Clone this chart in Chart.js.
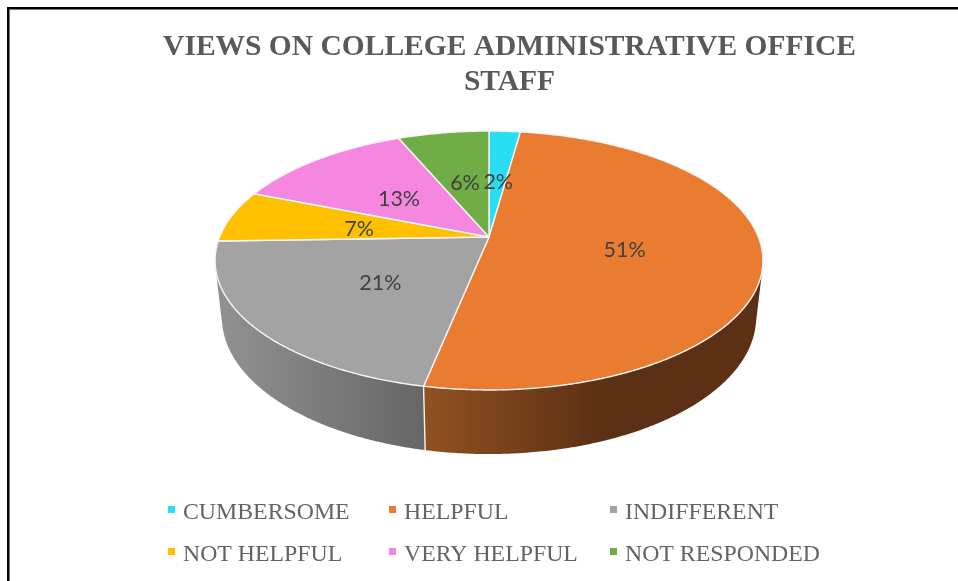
<!DOCTYPE html>
<html>
<head>
<meta charset="utf-8">
<style>
html,body{margin:0;padding:0;width:958px;height:581px;overflow:hidden;background:#fff}
#frame{position:absolute;left:7px;top:7px;width:1000px;height:700px;border-left:2px solid #000;border-top:2px solid #000;box-shadow:inset 1px 1px 0 #777}
#wrap{position:absolute;left:0;top:0;width:958px;height:581px}
canvas{filter:blur(0.45px)}
</style>
<script src="https://cdn.jsdelivr.net/npm/chart.js@4"></script>
</head>
<body>
<div id="frame"></div>
<div id="wrap"><canvas id="c" width="958" height="581"></canvas></div>
<script>
const categories = ["CUMBERSOME","HELPFUL","INDIFFERENT","NOT HELPFUL","VERY HELPFUL","NOT RESPONDED"];
const sliceValues = [2.2,51,21.3,6.5,12.6,6.4];
const percentLabels = ["2%","51%","21%","7%","13%","6%"];
const titleLines = ["VIEWS ON COLLEGE ADMINISTRATIVE OFFICE","STAFF"];
const faceColors = ["#29DDF3","#EA7C31","#A3A3A3","#FFC000","#F587E0","#70AD47"];
const wallStart = ["#1c9aaa","#905121","#919191","#b28600","#ab5e9c","#4e7931"];
const wallEnd = ["#1c9aaa","#5C3014","#666666","#b28600","#ab5e9c","#4e7931"];
const wallRange = [[460,520],[426,600],[222,424],[215,300],[250,400],[400,490]];
const P = {cx:489, cy:237, k:0.1815, s:125.2, t:269.4, m:0.975, D:55.6};

function upper(a, r){
  const u = Math.cos(a)*r, v = Math.sin(a)*r, w = 1 - P.k*v;
  return [P.cx + P.t*u/w, P.cy + P.s*v/w];
}
function lower(a){
  const u = Math.cos(a), v = Math.sin(a), w = 1 - P.k*v;
  return [P.cx + P.m*P.t*u/w, P.cy + (P.m*P.s*v + P.D)/w];
}
function quadArea(p){
  let s=0;
  for(let i=0;i<4;i++){const q=p[(i+1)%4]; s+=p[i][0]*q[1]-q[0]*p[i][1];}
  return s;
}
const legendCols = [168,389,610];
const legendRows = [506,548];

const pie3d = {
  id:"pie3d",
  beforeDatasetDraw(chart, args){
    const ctx = chart.ctx, arcs = chart.getDatasetMeta(args.index).data;
    const step = Math.PI/360;
    ctx.save();
    // side wall: only the part that faces the viewer
    arcs.forEach((arc,i)=>{
      const g = ctx.createLinearGradient(wallRange[i][0],0,wallRange[i][1],0);
      g.addColorStop(0,wallStart[i]); g.addColorStop(1,wallEnd[i]);
      ctx.fillStyle = g;
      ctx.beginPath();
      for(let a=arc.startAngle; a<arc.endAngle; a+=step){
        const b = Math.min(a+step,arc.endAngle);
        if(Math.sin(a)<P.k-0.01 && Math.sin(b)<P.k-0.01) continue;
        let p=[upper(a,1),upper(b,1),lower(b),lower(a)];
        if(quadArea(p)<0) p=p.reverse();
        ctx.moveTo(p[0][0],p[0][1]);
        for(let j=1;j<4;j++) ctx.lineTo(p[j][0],p[j][1]);
        ctx.closePath();
      }
      ctx.fill("nonzero");
    });
    // seams on the visible wall
    ctx.strokeStyle="#f4f4f4"; ctx.lineWidth=1.4;
    arcs.forEach(arc=>{
      if(Math.sin(arc.endAngle)>0.3){
        const p=upper(arc.endAngle,1), q=lower(arc.endAngle);
        ctx.beginPath(); ctx.moveTo(p[0],p[1]); ctx.lineTo(q[0],q[1]); ctx.stroke();
      }
    });
    // top face
    arcs.forEach((arc,i)=>{
      ctx.beginPath();
      const o=upper(0,0); ctx.moveTo(o[0],o[1]);
      for(let a=arc.startAngle; a<arc.endAngle; a+=step){
        const p=upper(a,1); ctx.lineTo(p[0],p[1]);
      }
      const e=upper(arc.endAngle,1); ctx.lineTo(e[0],e[1]);
      ctx.closePath();
      ctx.fillStyle=faceColors[i]; ctx.fill();
      ctx.strokeStyle="#f6f6f6"; ctx.lineWidth=1.4; ctx.lineJoin="round"; ctx.stroke();
    });
    // value labels
    ctx.fillStyle="#404040";
    ctx.font="21.5px Lato, 'Open Sans', sans-serif";
    ctx.textAlign="center"; ctx.textBaseline="middle";
    arcs.forEach((arc,i)=>{
      const p=upper((arc.startAngle+arc.endAngle)/2,0.5);
      ctx.fillText(percentLabels[i],p[0]+0.7,p[1]+2.7);
    });
    // legend
    ctx.textAlign="left"; ctx.textBaseline="alphabetic";
    ctx.font="23.8px 'Liberation Serif', serif";
    chart.data.labels.forEach((lab,i)=>{
      const x=legendCols[i%3], y=legendRows[Math.floor(i/3)];
      ctx.fillStyle=faceColors[i]; ctx.fillRect(x,y,7,7);
      ctx.fillStyle="#636363"; ctx.fillText(lab,x+15,y+13);
    });
    ctx.restore();
    return false;
  }
};

new Chart(document.getElementById("c"),{
  type:"pie",
  data:{labels:categories,datasets:[{data:sliceValues,backgroundColor:faceColors}]},
  options:{
    responsive:false,animation:false,
    layout:{padding:{left:61}},
    plugins:{
      legend:{display:false},tooltip:{enabled:false},
      title:{display:true,text:titleLines,color:"#595959",
        font:{family:"'Liberation Serif', serif",size:29.5,weight:"bold",lineHeight:1.18},
        padding:{top:30,bottom:10}}
    }
  },
  plugins:[pie3d]
});
</script>
</body>
</html>
